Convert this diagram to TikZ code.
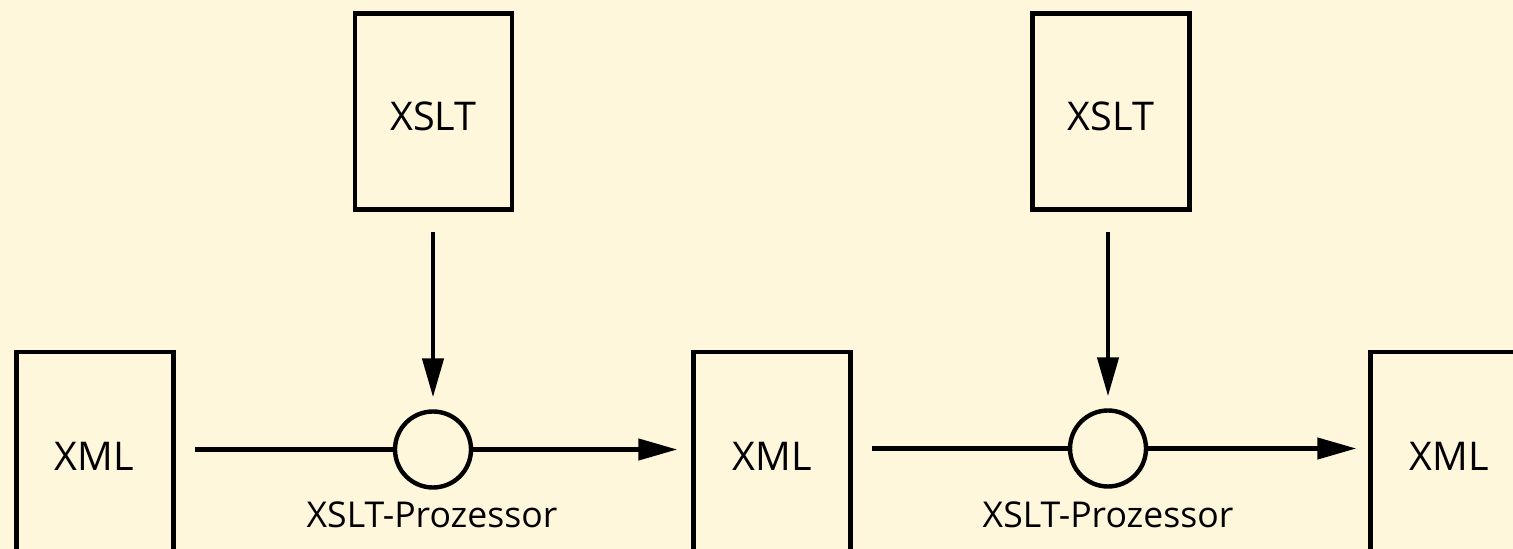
\documentclass[tikz,border=0pt]{standalone}
\usepackage{fontspec}
\setmainfont{Open Sans}
\usetikzlibrary{arrows.meta}
\definecolor{bg}{HTML}{FFF7DC}
\tikzset{
  docbox/.style={draw=black, line width=2.2pt, fill=bg, inner sep=0pt, minimum width=78.5pt, minimum height=98pt},
  xmlbox/.style={docbox, minimum height=104.5pt},
  proc/.style={draw=black, line width=2.2pt, circle, inner sep=0pt, minimum size=38pt},
  boxtxt/.style={font=\fontsize{19.8}{22}\selectfont, inner sep=0pt, anchor=base},
  proctxt/.style={font=\fontsize{17.8}{20}\selectfont, inner sep=0pt, anchor=base},
  flow/.style={line width=2.2pt, -{Triangle[length=19.5pt,width=10.5pt]}},
  plain/.style={line width=2.2pt}
}
\begin{document}
\begin{tikzpicture}[x=0.5pt,y=-0.5pt]
\clip (0,0) rectangle (1513,549);
\fill[bg] (0,0) rectangle (1513,549);
% boxes
\node[xmlbox] (x1) at (95,456.5) {};
\node[xmlbox] (x2) at (772,456.5) {};
\node[xmlbox] (x3) at (1449,456.5) {};
\node[docbox] (s1) at (433.5,111.5) {};
\node[docbox] (s2) at (1111,111.5) {};
% texts
\node[boxtxt] (tx1) at (94.5,470) {XML};
\node[boxtxt] (tx2) at (772,470) {XML};
\node[boxtxt] (tx3) at (1449,470) {XML};
\node[boxtxt] (ts1) at (433.5,130.5) {XSLT};
\node[boxtxt] (ts2) at (1111,130.5) {XSLT};
% processors
\node[proc] (p1) at (433,449.5) {};
\node[proc] (p2) at (1108,448.5) {};
\node[proctxt] (l1) at (432,527) {XSLT-Prozessor};
\node[proctxt] (l2) at (1108,527) {XSLT-Prozessor};
% connectors
\draw[plain, shorten <=9.5pt] (x1.east |- p1.west) -- (p1.west);
\draw[flow, shorten >=7pt] (p1.east) -- (x2.west |- p1.east);
\draw[plain, shorten <=9.5pt] (x2.east |- p2.west) -- (p2.west);
\draw[flow, shorten >=6pt] (p2.east) -- (x3.west |- p2.east);
\draw[flow, shorten <=10pt, shorten >=6pt] (s1.south -| p1.north) -- (p1.north);
\draw[flow, shorten <=10pt, shorten >=6pt] (s2.south -| p2.north) -- (p2.north);
\end{tikzpicture}
\end{document}
